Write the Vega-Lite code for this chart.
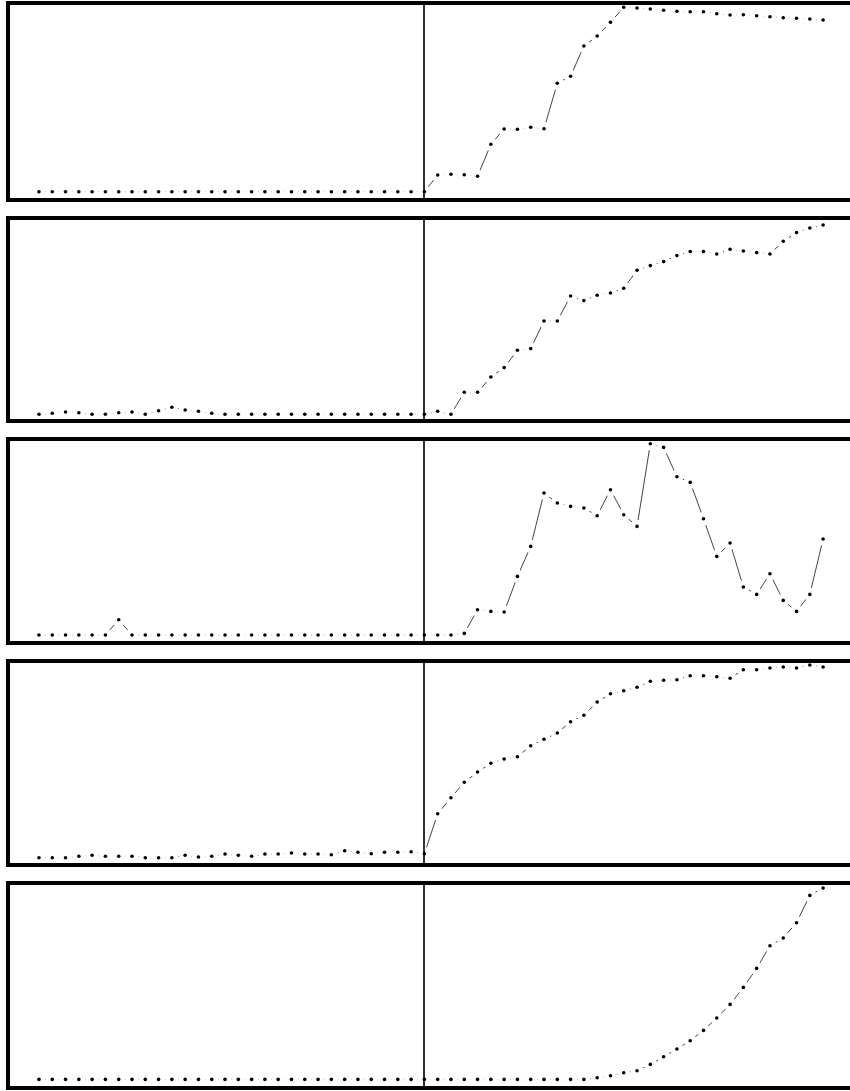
{
"$schema": "https://vega.github.io/schema/vega-lite/v6.json",
"padding": {"left": 5, "top": 0, "right": 0, "bottom": 0},
"spacing": 18,
"bounds": "flush",
"config": {"view": {"stroke": null}},
"data": {"values": [
{"p":1,"t":-29,"v":8.3},{"p":1,"t":-28,"v":8.3},{"p":1,"t":-27,"v":8.3},{"p":1,"t":-26,"v":8.3},{"p":1,"t":-25,"v":8.3},{"p":1,"t":-24,"v":8.3},{"p":1,"t":-23,"v":8.3},{"p":1,"t":-22,"v":8.3},{"p":1,"t":-21,"v":8.3},{"p":1,"t":-20,"v":8.3},
{"p":1,"t":-19,"v":8.3},{"p":1,"t":-18,"v":8.3},{"p":1,"t":-17,"v":8.3},{"p":1,"t":-16,"v":8.3},{"p":1,"t":-15,"v":8.3},{"p":1,"t":-14,"v":8.3},{"p":1,"t":-13,"v":8.3},{"p":1,"t":-12,"v":8.3},{"p":1,"t":-11,"v":8.3},{"p":1,"t":-10,"v":8.3},
{"p":1,"t":-9,"v":8.3},{"p":1,"t":-8,"v":8.3},{"p":1,"t":-7,"v":8.3},{"p":1,"t":-6,"v":8.3},{"p":1,"t":-5,"v":8.3},{"p":1,"t":-4,"v":8.3},{"p":1,"t":-3,"v":8.3},{"p":1,"t":-2,"v":8.3},{"p":1,"t":-1,"v":8.3},{"p":1,"t":0,"v":8.3},
{"p":1,"t":1,"v":25},{"p":1,"t":2,"v":25.7},{"p":1,"t":3,"v":25.3},{"p":1,"t":4,"v":23.7},{"p":1,"t":5,"v":55.7},{"p":1,"t":6,"v":71},{"p":1,"t":7,"v":70.7},{"p":1,"t":8,"v":72.7},{"p":1,"t":9,"v":71.3},{"p":1,"t":10,"v":116.7},
{"p":1,"t":11,"v":123.7},{"p":1,"t":12,"v":154},{"p":1,"t":13,"v":164},{"p":1,"t":14,"v":177.7},{"p":1,"t":15,"v":192.7},{"p":1,"t":16,"v":192},{"p":1,"t":17,"v":191},{"p":1,"t":18,"v":189.7},{"p":1,"t":19,"v":188.7},{"p":1,"t":20,"v":188.3},
{"p":1,"t":21,"v":188.3},{"p":1,"t":22,"v":186.3},{"p":1,"t":23,"v":185},{"p":1,"t":24,"v":185.3},{"p":1,"t":25,"v":184.3},{"p":1,"t":26,"v":183.3},{"p":1,"t":27,"v":182.3},{"p":1,"t":28,"v":181.7},{"p":1,"t":29,"v":181},{"p":1,"t":30,"v":180},
{"p":2,"t":-29,"v":6.7},{"p":2,"t":-28,"v":7.7},{"p":2,"t":-27,"v":9},{"p":2,"t":-26,"v":8.3},{"p":2,"t":-25,"v":6.7},{"p":2,"t":-24,"v":6.7},{"p":2,"t":-23,"v":8.3},{"p":2,"t":-22,"v":9},{"p":2,"t":-21,"v":6.7},{"p":2,"t":-20,"v":10.3},
{"p":2,"t":-19,"v":13.7},{"p":2,"t":-18,"v":11},{"p":2,"t":-17,"v":9.7},{"p":2,"t":-16,"v":7.7},{"p":2,"t":-15,"v":6.7},{"p":2,"t":-14,"v":6.7},{"p":2,"t":-13,"v":6.7},{"p":2,"t":-12,"v":6.7},{"p":2,"t":-11,"v":6.7},{"p":2,"t":-10,"v":6.7},
{"p":2,"t":-9,"v":6.7},{"p":2,"t":-8,"v":6.7},{"p":2,"t":-7,"v":6.7},{"p":2,"t":-6,"v":6.7},{"p":2,"t":-5,"v":6.7},{"p":2,"t":-4,"v":6.7},{"p":2,"t":-3,"v":6.7},{"p":2,"t":-2,"v":6.7},{"p":2,"t":-1,"v":6.7},{"p":2,"t":0,"v":6.7},
{"p":2,"t":1,"v":9.7},{"p":2,"t":2,"v":6.7},{"p":2,"t":3,"v":28.7},{"p":2,"t":4,"v":28.7},{"p":2,"t":5,"v":44},{"p":2,"t":6,"v":53.4},{"p":2,"t":7,"v":70.7},{"p":2,"t":8,"v":72.4},{"p":2,"t":9,"v":100},{"p":2,"t":10,"v":100},
{"p":2,"t":11,"v":125},{"p":2,"t":12,"v":120.4},{"p":2,"t":13,"v":125.7},{"p":2,"t":14,"v":128},{"p":2,"t":15,"v":132.7},{"p":2,"t":16,"v":150.7},{"p":2,"t":17,"v":155.4},{"p":2,"t":18,"v":159.4},{"p":2,"t":19,"v":165.4},{"p":2,"t":20,"v":169.4},
{"p":2,"t":21,"v":169.4},{"p":2,"t":22,"v":167},{"p":2,"t":23,"v":171.7},{"p":2,"t":24,"v":170},{"p":2,"t":25,"v":168.4},{"p":2,"t":26,"v":167},{"p":2,"t":27,"v":179.7},{"p":2,"t":28,"v":188.4},{"p":2,"t":29,"v":193},{"p":2,"t":30,"v":196},
{"p":3,"t":-29,"v":8},{"p":3,"t":-28,"v":8},{"p":3,"t":-27,"v":8},{"p":3,"t":-26,"v":8},{"p":3,"t":-25,"v":8},{"p":3,"t":-24,"v":8},{"p":3,"t":-23,"v":23.3},{"p":3,"t":-22,"v":8},{"p":3,"t":-21,"v":8},{"p":3,"t":-20,"v":8},
{"p":3,"t":-19,"v":8},{"p":3,"t":-18,"v":8},{"p":3,"t":-17,"v":8},{"p":3,"t":-16,"v":8},{"p":3,"t":-15,"v":8},{"p":3,"t":-14,"v":8},{"p":3,"t":-13,"v":8},{"p":3,"t":-12,"v":8},{"p":3,"t":-11,"v":8},{"p":3,"t":-10,"v":8},
{"p":3,"t":-9,"v":8},{"p":3,"t":-8,"v":8},{"p":3,"t":-7,"v":8},{"p":3,"t":-6,"v":8},{"p":3,"t":-5,"v":8},{"p":3,"t":-4,"v":8},{"p":3,"t":-3,"v":8},{"p":3,"t":-2,"v":8},{"p":3,"t":-1,"v":8},{"p":3,"t":0,"v":8},
{"p":3,"t":1,"v":8},{"p":3,"t":2,"v":8},{"p":3,"t":3,"v":9.6},{"p":3,"t":4,"v":33.3},{"p":3,"t":5,"v":31.6},{"p":3,"t":6,"v":31},{"p":3,"t":7,"v":66.6},{"p":3,"t":8,"v":96.6},{"p":3,"t":9,"v":150},{"p":3,"t":10,"v":140},
{"p":3,"t":11,"v":136.6},{"p":3,"t":12,"v":135},{"p":3,"t":13,"v":127.3},{"p":3,"t":14,"v":153.3},{"p":3,"t":15,"v":128.3},{"p":3,"t":16,"v":116.6},{"p":3,"t":17,"v":199.3},{"p":3,"t":18,"v":195.6},{"p":3,"t":19,"v":166.3},{"p":3,"t":20,"v":160.6},
{"p":3,"t":21,"v":124.3},{"p":3,"t":22,"v":86.6},{"p":3,"t":23,"v":100},{"p":3,"t":24,"v":56},{"p":3,"t":25,"v":48.6},{"p":3,"t":26,"v":69.3},{"p":3,"t":27,"v":42.6},{"p":3,"t":28,"v":31.6},{"p":3,"t":29,"v":48.6},{"p":3,"t":30,"v":104},
{"p":4,"t":-29,"v":7.3},{"p":4,"t":-28,"v":7.3},{"p":4,"t":-27,"v":7.3},{"p":4,"t":-26,"v":8.7},{"p":4,"t":-25,"v":9.7},{"p":4,"t":-24,"v":8.7},{"p":4,"t":-23,"v":8.7},{"p":4,"t":-22,"v":8.7},{"p":4,"t":-21,"v":7.3},{"p":4,"t":-20,"v":7.3},
{"p":4,"t":-19,"v":7.3},{"p":4,"t":-18,"v":9.7},{"p":4,"t":-17,"v":8},{"p":4,"t":-16,"v":8.7},{"p":4,"t":-15,"v":11},{"p":4,"t":-14,"v":9.7},{"p":4,"t":-13,"v":8.7},{"p":4,"t":-12,"v":11},{"p":4,"t":-11,"v":11},{"p":4,"t":-10,"v":12},
{"p":4,"t":-9,"v":11},{"p":4,"t":-8,"v":11},{"p":4,"t":-7,"v":10.3},{"p":4,"t":-6,"v":14.3},{"p":4,"t":-5,"v":12.7},{"p":4,"t":-4,"v":11.3},{"p":4,"t":-3,"v":12.7},{"p":4,"t":-2,"v":12.7},{"p":4,"t":-1,"v":13.3},{"p":4,"t":0,"v":11.3},
{"p":4,"t":1,"v":51.3},{"p":4,"t":2,"v":67.3},{"p":4,"t":3,"v":82.7},{"p":4,"t":4,"v":93},{"p":4,"t":5,"v":101.7},{"p":4,"t":6,"v":106},{"p":4,"t":7,"v":108.3},{"p":4,"t":8,"v":119.3},{"p":4,"t":9,"v":125.7},{"p":4,"t":10,"v":132},
{"p":4,"t":11,"v":143.3},{"p":4,"t":12,"v":149.7},{"p":4,"t":13,"v":163},{"p":4,"t":14,"v":171.3},{"p":4,"t":15,"v":174.3},{"p":4,"t":16,"v":177.7},{"p":4,"t":17,"v":183.7},{"p":4,"t":18,"v":184.7},{"p":4,"t":19,"v":185.3},{"p":4,"t":20,"v":189.3},
{"p":4,"t":21,"v":189.3},{"p":4,"t":22,"v":188.3},{"p":4,"t":23,"v":186.7},{"p":4,"t":24,"v":195.3},{"p":4,"t":25,"v":195.3},{"p":4,"t":26,"v":197},{"p":4,"t":27,"v":198},{"p":4,"t":28,"v":197},{"p":4,"t":29,"v":200},{"p":4,"t":30,"v":198},
{"p":5,"t":-29,"v":8.6},{"p":5,"t":-28,"v":8.6},{"p":5,"t":-27,"v":8.6},{"p":5,"t":-26,"v":8.6},{"p":5,"t":-25,"v":8.6},{"p":5,"t":-24,"v":8.6},{"p":5,"t":-23,"v":8.6},{"p":5,"t":-22,"v":8.6},{"p":5,"t":-21,"v":8.6},{"p":5,"t":-20,"v":8.6},
{"p":5,"t":-19,"v":8.6},{"p":5,"t":-18,"v":8.6},{"p":5,"t":-17,"v":8.6},{"p":5,"t":-16,"v":8.6},{"p":5,"t":-15,"v":8.6},{"p":5,"t":-14,"v":8.6},{"p":5,"t":-13,"v":8.6},{"p":5,"t":-12,"v":8.6},{"p":5,"t":-11,"v":8.6},{"p":5,"t":-10,"v":8.6},
{"p":5,"t":-9,"v":8.6},{"p":5,"t":-8,"v":8.6},{"p":5,"t":-7,"v":8.6},{"p":5,"t":-6,"v":8.6},{"p":5,"t":-5,"v":8.6},{"p":5,"t":-4,"v":8.6},{"p":5,"t":-3,"v":8.6},{"p":5,"t":-2,"v":8.6},{"p":5,"t":-1,"v":8.6},{"p":5,"t":0,"v":8.6},
{"p":5,"t":1,"v":8.6},{"p":5,"t":2,"v":8.6},{"p":5,"t":3,"v":8.6},{"p":5,"t":4,"v":8.6},{"p":5,"t":5,"v":8.6},{"p":5,"t":6,"v":8.6},{"p":5,"t":7,"v":8.6},{"p":5,"t":8,"v":8.6},{"p":5,"t":9,"v":8.6},{"p":5,"t":10,"v":8.6},
{"p":5,"t":11,"v":8.6},{"p":5,"t":12,"v":8.6},{"p":5,"t":13,"v":10.3},{"p":5,"t":14,"v":12.3},{"p":5,"t":15,"v":15.3},{"p":5,"t":16,"v":17.3},{"p":5,"t":17,"v":23.6},{"p":5,"t":18,"v":31.3},{"p":5,"t":19,"v":39},{"p":5,"t":20,"v":47.3},
{"p":5,"t":21,"v":57.6},{"p":5,"t":22,"v":70},{"p":5,"t":23,"v":83.6},{"p":5,"t":24,"v":100.6},{"p":5,"t":25,"v":119.6},{"p":5,"t":26,"v":142.3},{"p":5,"t":27,"v":150},{"p":5,"t":28,"v":165.3},{"p":5,"t":29,"v":192.6},{"p":5,"t":30,"v":200}
]},
"vconcat": [
{"width": 870, "height": 197, "transform": [{"filter": "datum.p === 1"}],
 "layer": [
  {"mark": {"type": "line", "color": "#444", "strokeWidth": 1}, "encoding": {"x": {"field": "t", "type": "quantitative", "scale": {"domain": [-31.33, 34.13], "nice": false, "zero": false}, "axis": null}, "y": {"field": "v", "type": "quantitative", "scale": {"domain": [0, 197], "nice": false, "zero": false}, "axis": null}}},
  {"mark": {"type": "circle", "color": "white", "opacity": 1, "size": 175, "clip": true}, "encoding": {"x": {"field": "t", "type": "quantitative"}, "y": {"field": "v", "type": "quantitative"}}},
  {"mark": {"type": "rule", "color": "#333", "strokeWidth": 1}, "encoding": {"x": {"datum": 0, "type": "quantitative"}}},
  {"mark": {"type": "rule", "color": "black", "strokeWidth": 4, "strokeCap": "square"}, "encoding": {"y": {"datum": 0, "type": "quantitative"}}},
  {"mark": {"type": "rule", "color": "black", "strokeWidth": 4, "strokeCap": "square"}, "encoding": {"y": {"datum": 197, "type": "quantitative"}}},
  {"mark": {"type": "rule", "color": "black", "strokeWidth": 4, "strokeCap": "square"}, "encoding": {"x": {"datum": -31.33, "type": "quantitative"}}},
  {"mark": {"type": "circle", "color": "black", "opacity": 1, "size": 13}, "encoding": {"x": {"field": "t", "type": "quantitative"}, "y": {"field": "v", "type": "quantitative"}}}
 ]},
{"width": 870, "height": 203, "transform": [{"filter": "datum.p === 2"}],
 "layer": [
  {"mark": {"type": "line", "color": "#444", "strokeWidth": 1}, "encoding": {"x": {"field": "t", "type": "quantitative", "scale": {"domain": [-31.33, 34.13], "nice": false, "zero": false}, "axis": null}, "y": {"field": "v", "type": "quantitative", "scale": {"domain": [0, 203], "nice": false, "zero": false}, "axis": null}}},
  {"mark": {"type": "circle", "color": "white", "opacity": 1, "size": 175, "clip": true}, "encoding": {"x": {"field": "t", "type": "quantitative"}, "y": {"field": "v", "type": "quantitative"}}},
  {"mark": {"type": "rule", "color": "#333", "strokeWidth": 1}, "encoding": {"x": {"datum": 0, "type": "quantitative"}}},
  {"mark": {"type": "rule", "color": "black", "strokeWidth": 4, "strokeCap": "square"}, "encoding": {"y": {"datum": 0, "type": "quantitative"}}},
  {"mark": {"type": "rule", "color": "black", "strokeWidth": 4, "strokeCap": "square"}, "encoding": {"y": {"datum": 203, "type": "quantitative"}}},
  {"mark": {"type": "rule", "color": "black", "strokeWidth": 4, "strokeCap": "square"}, "encoding": {"x": {"datum": -31.33, "type": "quantitative"}}},
  {"mark": {"type": "circle", "color": "black", "opacity": 1, "size": 13}, "encoding": {"x": {"field": "t", "type": "quantitative"}, "y": {"field": "v", "type": "quantitative"}}}
 ]},
{"width": 870, "height": 204, "transform": [{"filter": "datum.p === 3"}],
 "layer": [
  {"mark": {"type": "line", "color": "#444", "strokeWidth": 1}, "encoding": {"x": {"field": "t", "type": "quantitative", "scale": {"domain": [-31.33, 34.13], "nice": false, "zero": false}, "axis": null}, "y": {"field": "v", "type": "quantitative", "scale": {"domain": [0, 204], "nice": false, "zero": false}, "axis": null}}},
  {"mark": {"type": "circle", "color": "white", "opacity": 1, "size": 175, "clip": true}, "encoding": {"x": {"field": "t", "type": "quantitative"}, "y": {"field": "v", "type": "quantitative"}}},
  {"mark": {"type": "rule", "color": "#333", "strokeWidth": 1}, "encoding": {"x": {"datum": 0, "type": "quantitative"}}},
  {"mark": {"type": "rule", "color": "black", "strokeWidth": 4, "strokeCap": "square"}, "encoding": {"y": {"datum": 0, "type": "quantitative"}}},
  {"mark": {"type": "rule", "color": "black", "strokeWidth": 4, "strokeCap": "square"}, "encoding": {"y": {"datum": 204, "type": "quantitative"}}},
  {"mark": {"type": "rule", "color": "black", "strokeWidth": 4, "strokeCap": "square"}, "encoding": {"x": {"datum": -31.33, "type": "quantitative"}}},
  {"mark": {"type": "circle", "color": "black", "opacity": 1, "size": 13}, "encoding": {"x": {"field": "t", "type": "quantitative"}, "y": {"field": "v", "type": "quantitative"}}}
 ]},
{"width": 870, "height": 204, "transform": [{"filter": "datum.p === 4"}],
 "layer": [
  {"mark": {"type": "line", "color": "#444", "strokeWidth": 1}, "encoding": {"x": {"field": "t", "type": "quantitative", "scale": {"domain": [-31.33, 34.13], "nice": false, "zero": false}, "axis": null}, "y": {"field": "v", "type": "quantitative", "scale": {"domain": [0, 204], "nice": false, "zero": false}, "axis": null}}},
  {"mark": {"type": "circle", "color": "white", "opacity": 1, "size": 175, "clip": true}, "encoding": {"x": {"field": "t", "type": "quantitative"}, "y": {"field": "v", "type": "quantitative"}}},
  {"mark": {"type": "rule", "color": "#333", "strokeWidth": 1}, "encoding": {"x": {"datum": 0, "type": "quantitative"}}},
  {"mark": {"type": "rule", "color": "black", "strokeWidth": 4, "strokeCap": "square"}, "encoding": {"y": {"datum": 0, "type": "quantitative"}}},
  {"mark": {"type": "rule", "color": "black", "strokeWidth": 4, "strokeCap": "square"}, "encoding": {"y": {"datum": 204, "type": "quantitative"}}},
  {"mark": {"type": "rule", "color": "black", "strokeWidth": 4, "strokeCap": "square"}, "encoding": {"x": {"datum": -31.33, "type": "quantitative"}}},
  {"mark": {"type": "circle", "color": "black", "opacity": 1, "size": 13}, "encoding": {"x": {"field": "t", "type": "quantitative"}, "y": {"field": "v", "type": "quantitative"}}}
 ]},
{"width": 870, "height": 205, "transform": [{"filter": "datum.p === 5"}],
 "layer": [
  {"mark": {"type": "line", "color": "#444", "strokeWidth": 1}, "encoding": {"x": {"field": "t", "type": "quantitative", "scale": {"domain": [-31.33, 34.13], "nice": false, "zero": false}, "axis": null}, "y": {"field": "v", "type": "quantitative", "scale": {"domain": [0, 205], "nice": false, "zero": false}, "axis": null}}},
  {"mark": {"type": "circle", "color": "white", "opacity": 1, "size": 175, "clip": true}, "encoding": {"x": {"field": "t", "type": "quantitative"}, "y": {"field": "v", "type": "quantitative"}}},
  {"mark": {"type": "rule", "color": "#333", "strokeWidth": 1}, "encoding": {"x": {"datum": 0, "type": "quantitative"}}},
  {"mark": {"type": "rule", "color": "black", "strokeWidth": 4, "strokeCap": "square"}, "encoding": {"y": {"datum": 0, "type": "quantitative"}}},
  {"mark": {"type": "rule", "color": "black", "strokeWidth": 4, "strokeCap": "square"}, "encoding": {"y": {"datum": 205, "type": "quantitative"}}},
  {"mark": {"type": "rule", "color": "black", "strokeWidth": 4, "strokeCap": "square"}, "encoding": {"x": {"datum": -31.33, "type": "quantitative"}}},
  {"mark": {"type": "circle", "color": "black", "opacity": 1, "size": 13}, "encoding": {"x": {"field": "t", "type": "quantitative"}, "y": {"field": "v", "type": "quantitative"}}}
 ]}
]
}
